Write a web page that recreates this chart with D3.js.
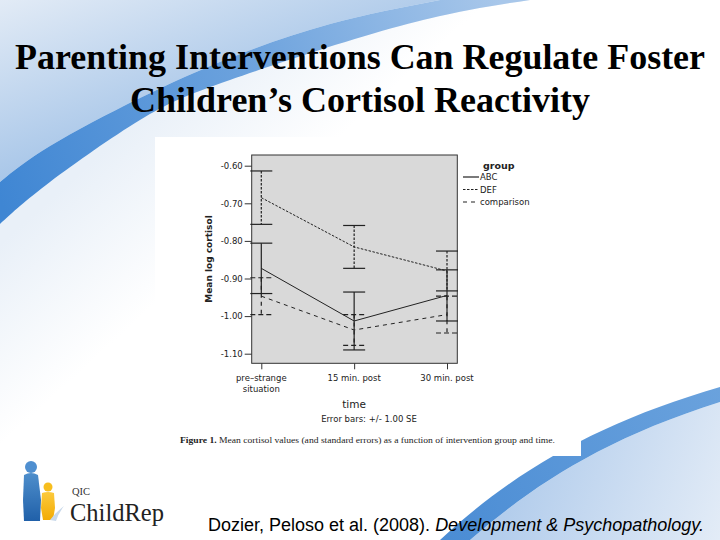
<!DOCTYPE html>
<html><head><meta charset="utf-8">
<script src="https://cdn.jsdelivr.net/npm/d3@7"></script>
<style>html,body{margin:0;padding:0;background:#fff;}svg{display:block;}</style>
</head><body>
<div id="chart"></div>
<script>
// ---- data ----
const titleLines = ["Parenting Interventions Can Regulate Foster", "Children’s Cortisol Reactivity"];
const categories = ["pre", "15", "30"];
const xTickLabels = [["pre–strange", "situation"], ["15 min. post"], ["30 min. post"]];
const groups = ["ABC", "DEF", "comparison"];
const abcMean = [-0.873, -1.013, -0.945];
const abcSE = [0.067, 0.077, 0.068];
const defMean = [-0.685, -0.816, -0.880];
const defSE = [0.071, 0.057, 0.053];
const compMean = [-0.947, -1.037, -0.996];
const compSE = [0.049, 0.041, 0.049];
const yTicks = [-0.60, -0.70, -0.80, -0.90, -1.00, -1.10];
const yLabel = "Mean log cortisol";
const xLabel = "time";
const errNote = "Error bars: +/- 1.00 SE";
const captionBold = "Figure 1.";
const captionText = " Mean cortisol values (and standard errors) as a function of intervention group and time.";
const citation = "Dozier, Peloso et al. (2008). ";
const citationItalic = "Development & Psychopathology.";

const W = 720, H = 540;
const svg = d3.select("#chart").append("svg").attr("width", W).attr("height", H);
const defs = svg.append("defs");

function lin(id, x1, y1, x2, y2, stops) {
  const g = defs.append("linearGradient").attr("id", id).attr("gradientUnits", "userSpaceOnUse")
    .attr("x1", x1).attr("y1", y1).attr("x2", x2).attr("y2", y2);
  stops.forEach(s => g.append("stop").attr("offset", s[0]).attr("stop-color", s[1]));
}
lin("gBase", 0, 0, 0, 300, [[0, "#eef4fa"], [1, "#ffffff"]]);
lin("gTL", 0, 0, 60, 170, [[0, "#e2ebf6"], [1, "#a6c5e8"]]);
lin("gBand", 0, 200, 500, 0, [[0, "#3f86d3"], [0.55, "#6fa4de"], [1, "#a8c7ea"]]);
lin("gBelow", 60, 190, 160, 300, [[0, "#e9f0f8"], [1, "#ffffff"]]);
lin("gBR", 520, 470, 720, 540, [[0, "#b3cdec"], [1, "#e3ecf7"]]);
lin("gBRband", 440, 540, 720, 390, [[0, "#4a8cd4"], [1, "#6aa2dd"]]);
lin("gAdult", 0, 460, 0, 522, [[0, "#5b9bd5"], [1, "#1f5fa8"]]);
lin("gChild", 0, 484, 0, 522, [[0, "#ffd34d"], [1, "#f2a900"]]);

// ---- background ----
const upperEdge = [[0, 182], [50, 146], [140, 98], [230, 58], [330, 24], [440, 0]];
const lowerEdge = [[0, 224], [50, 182], [140, 120], [230, 80], [400, 26], [530, 0]];
const edge = d3.line().curve(d3.curveNatural);
const upperPath = edge(upperEdge);
const lowerPathRev = edge(lowerEdge.slice().reverse());
svg.append("rect").attr("width", W).attr("height", H).attr("fill", "url(#gBase)");
svg.append("path").attr("d", edge(lowerEdge) + "L720,0L720,540L0,540Z").attr("fill", "url(#gBelow)");
svg.append("path").attr("d", "M0,0" + upperPath.replace(/^M/, "L") + "Z").attr("fill", "url(#gTL)");
svg.append("path").attr("d", upperPath + "L530,0" + lowerPathRev.replace(/^M[^CL]*/, "") + "Z").attr("fill", "url(#gBand)");
svg.append("path").attr("d", "M470,540 C530,488 600,440 720,402 L720,540 Z").attr("fill", "url(#gBR)");
svg.append("path").attr("d", "M440,540 C515,470 600,422 720,387 L720,402 C600,440 530,488 470,540 Z").attr("fill", "url(#gBRband)");

// ---- title ----
const titleWidths = [690, 460];
svg.append("g").selectAll("text").data(titleLines).join("text")
  .attr("x", 360).attr("y", (d, i) => 69 + i * 43)
  .attr("text-anchor", "middle")
  .attr("font-family", "Liberation Serif, Times New Roman, serif")
  .attr("font-weight", "bold").attr("font-size", 36).attr("fill", "#000")
  .attr("textLength", (d, i) => titleWidths[i]).attr("lengthAdjust", "spacingAndGlyphs")
  .text(d => d);

// ---- figure panel ----
svg.append("rect").attr("x", 155).attr("y", 137).attr("width", 426).attr("height", 319).attr("fill", "#fff");

const plot = {left: 251.7, right: 457.3, top: 155, bottom: 363.3};
const y = d3.scaleLinear().domain([-1.10, -0.60]).range([353.7, 165.7]);
const x = d3.scalePoint().domain(categories).range([261.3, 447]);

svg.append("rect").attr("x", plot.left).attr("y", plot.top)
  .attr("width", plot.right - plot.left).attr("height", plot.bottom - plot.top)
  .attr("fill", "#d9d9d9").attr("stroke", "#333").attr("stroke-width", 1);

const chartFont = "DejaVu Sans, sans-serif";
const fmt = v => d3.format(".2f")(v).replace("−", "-");

// y axis
const yAxis = d3.axisLeft(y).tickValues(yTicks).tickFormat(fmt).tickSize(7).tickPadding(2);
const gy = svg.append("g").attr("transform", `translate(${plot.left},0)`).call(yAxis);
gy.select(".domain").remove();
gy.selectAll("line").attr("stroke", "#333");
gy.selectAll("text").attr("font-family", chartFont).attr("font-size", 8.5).attr("fill", "#222");

// x axis
const xAxis = d3.axisBottom(x).tickSize(6).tickFormat("");
const gx = svg.append("g").attr("transform", `translate(0,${plot.bottom})`).call(xAxis);
gx.select(".domain").remove();
gx.selectAll("line").attr("stroke", "#333");
svg.append("g").selectAll("text").data(categories).join("text")
  .attr("x", d => x(d)).attr("y", 381)
  .attr("text-anchor", "middle").attr("font-family", chartFont).attr("font-size", 8.5).attr("fill", "#222")
  .each(function(d, i) {
    d3.select(this).selectAll("tspan").data(xTickLabels[i]).join("tspan")
      .attr("x", x(d)).attr("dy", (t, j) => j === 0 ? 0 : 10.5).text(t => t);
  });

// axis titles
svg.append("text").attr("transform", `translate(212,259) rotate(-90)`)
  .attr("text-anchor", "middle").attr("font-family", chartFont).attr("font-weight", "bold")
  .attr("font-size", 9).attr("fill", "#222").text(yLabel);
svg.append("text").attr("x", 354).attr("y", 408).attr("text-anchor", "middle")
  .attr("font-family", chartFont).attr("font-size", 10.5).attr("fill", "#222").text(xLabel);
svg.append("text").attr("x", 369).attr("y", 421.5).attr("text-anchor", "middle")
  .attr("font-family", chartFont).attr("font-size", 8.5).attr("fill", "#222").text(errNote);

// caption
const cap = svg.append("text").attr("x", 180).attr("y", 443)
  .attr("font-family", "Liberation Serif, serif").attr("font-size", 9).attr("fill", "#222")
  .attr("textLength", 375).attr("lengthAdjust", "spacingAndGlyphs");
cap.append("tspan").attr("font-weight", "bold").text(captionBold);
cap.append("tspan").text(captionText);

// ---- series ----
const series = [
  {name: groups[2], mean: compMean, se: compSE, dash: "4,4", capDash: "5,3"},
  {name: groups[1], mean: defMean, se: defSE, dash: "2.5,1.5", capDash: null},
  {name: groups[0], mean: abcMean, se: abcSE, dash: null, capDash: null}
];
const line = d3.line().x((d, i) => x(categories[i])).y(d => y(d));
const capHalf = 11;
series.forEach(s => {
  const g = svg.append("g");
  g.append("path").attr("d", line(s.mean)).attr("fill", "none")
    .attr("stroke", "#222").attr("stroke-width", 1).attr("stroke-dasharray", s.dash);
  categories.forEach((c, i) => {
    const cx = x(c), hi = s.mean[i] + s.se[i], lo = s.mean[i] - s.se[i];
    g.append("line").attr("x1", cx).attr("x2", cx).attr("y1", y(hi)).attr("y2", y(lo))
      .attr("stroke", "#222").attr("stroke-width", 1.2).attr("stroke-dasharray", s.dash);
    [hi, lo].forEach(v => g.append("line")
      .attr("x1", cx - capHalf).attr("x2", cx + capHalf).attr("y1", y(v)).attr("y2", y(v))
      .attr("stroke", "#222").attr("stroke-width", 1.2).attr("stroke-dasharray", s.capDash));
  });
});

// legend
const leg = svg.append("g");
leg.append("text").attr("x", 483).attr("y", 168.5).attr("font-family", chartFont)
  .attr("font-weight", "bold").attr("font-size", 9.5).attr("fill", "#222").text("group");
const legItems = [series[2], series[1], series[0]];
legItems.forEach((s, i) => {
  const ly = 177 + i * 12.5;
  leg.append("line").attr("x1", 463).attr("x2", 479).attr("y1", ly).attr("y2", ly)
    .attr("stroke", "#222").attr("stroke-width", 1.2).attr("stroke-dasharray", s.dash);
  leg.append("text").attr("x", 480).attr("y", ly + 3).attr("font-family", chartFont)
    .attr("font-size", 8.5).attr("fill", "#222").text(s.name);
});

// ---- logo ----
const logo = svg.append("g");
logo.append("circle").attr("cx", 31).attr("cy", 467).attr("r", 6).attr("fill", "#4f8fd0");
logo.append("path").attr("d", "M24,475 Q31,471 38,475 L41,500 L40,521 L24,521 L23,500 Z").attr("fill", "url(#gAdult)");
logo.append("circle").attr("cx", 48).attr("cy", 487).attr("r", 4.5).attr("fill", "#f7be1e");
logo.append("path").attr("d", "M42,493 Q48,491 54,493 L55,508 L53,520 L43,520 L41,508 Z").attr("fill", "url(#gChild)");
logo.append("path").attr("d", "M50,520 Q56,512 64,506 Q58,514 56,521 Z").attr("fill", "#c9d9ea");
logo.append("text").attr("x", 72).attr("y", 495).attr("font-family", "Liberation Serif, serif")
  .attr("font-size", 10.5).attr("fill", "#333").text("QIC");
logo.append("text").attr("x", 70).attr("y", 521).attr("font-family", "Liberation Serif, serif")
  .attr("font-size", 24.5).attr("fill", "#222").text("ChildRep");

// ---- citation ----
const cit = svg.append("text").attr("x", 208).attr("y", 531)
  .attr("font-family", "Liberation Sans, Arial, sans-serif").attr("font-size", 18).attr("fill", "#000");
cit.append("tspan").text(citation);
cit.append("tspan").attr("font-style", "italic").text(citationItalic);
</script>
</body></html>
